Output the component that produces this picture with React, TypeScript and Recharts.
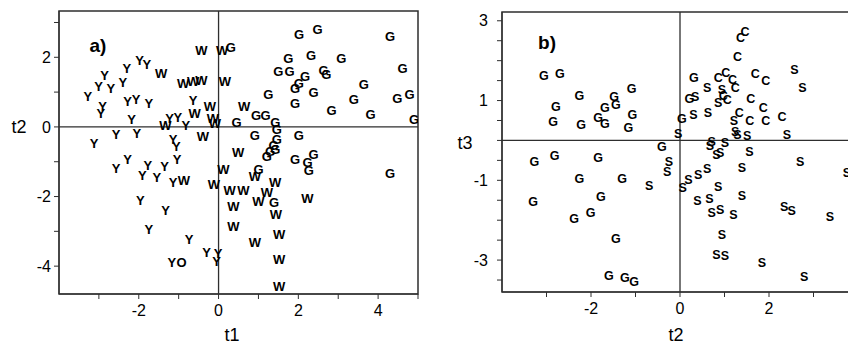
import React from "react";
import {
  ScatterChart,
  Scatter,
  XAxis,
  YAxis,
  ReferenceLine,
  ReferenceArea,
} from "recharts";

type Pt = [number, number];

// panel a) t1 vs t2
const aY: Pt[] = [
  [-2.3, 1.69], [-1.98, 1.9], [-1.8, 1.78], [-2.86, 1.47], [-3.01, 1.17],
  [-2.7, 1.11], [-2.4, 1.27], [-3.28, 0.87], [-2.91, 0.6], [-2.95, 0.39],
  [-2.28, 0.73], [-2.07, 0.78], [-1.75, 0.68], [-0.64, 0.76], [-2.18, 0.22],
  [-2.05, -0.18], [-1.23, 0.25], [-1.02, 0.28], [-0.82, 0.03], [-3.12, -0.49],
  [-2.57, -0.23], [-1.14, -0.37], [-1.06, -0.57], [-2.57, -1.19], [-2.28, -0.95],
  [-1.77, -1.12], [-1.91, -1.41], [-1.55, -1.45], [-1.35, -1.14], [-1.04, -0.95],
  [-1.14, -1.6], [-1.96, -2.1], [-1.33, -2.39], [-1.75, -2.96], [-0.74, -3.23],
  [-0.3, -3.61], [-0.01, -3.63], [-0.05, -3.87], [-1.17, -3.9],
];
const aO: Pt[] = [[-0.93, -3.9]];
const aW: Pt[] = [
  [-0.43, 2.19], [0.09, 2.19], [-1.44, 1.54], [-0.89, 1.26], [-0.64, 1.3],
  [-0.43, 1.32], [0.16, 1.3], [-0.6, 0.39], [-0.22, 0.6], [-0.14, 0.25],
  [-0.09, 0.11], [0.64, 0.6], [-1.33, 0.03], [-0.39, -0.28], [0.49, -0.74],
  [0.12, -1.22], [0.91, -1.43], [1.42, -1.6], [-0.87, -1.54], [-0.12, -1.64],
  [0.28, -1.83], [0.62, -1.83], [1.21, -1.89], [1.0, -2.15], [2.23, -2.05],
  [0.37, -2.29], [1.44, -2.53], [0.37, -2.86], [1.52, -3.08], [0.91, -3.32],
  [1.52, -3.82], [1.52, -4.59],
];
const aG: Pt[] = [
  [0.31, 2.27], [2.02, 2.66], [2.48, 2.79], [4.3, 2.61], [1.75, 1.97],
  [2.32, 2.04], [3.08, 1.97], [1.5, 1.59], [1.78, 1.59], [2.17, 1.45],
  [2.63, 1.62], [2.7, 1.52], [4.61, 1.67], [2.01, 1.24], [1.92, 1.11],
  [2.38, 0.99], [3.64, 1.21], [1.25, 0.94], [1.92, 0.66], [2.83, 0.47],
  [3.39, 0.78], [3.81, 0.37], [4.48, 0.82], [4.79, 0.92], [4.9, 0.22],
  [0.94, 0.34], [1.18, 0.32], [0.45, 0.12], [1.42, 0.12], [1.46, -0.07],
  [0.91, -0.25], [2.01, -0.25], [1.46, -0.37], [1.38, -0.52], [1.42, -0.66],
  [1.29, -0.71], [1.21, -0.85], [1.92, -0.95], [2.38, -0.8], [2.23, -1.03],
  [2.26, -1.24], [1.0, -1.22], [1.39, -2.18], [4.3, -1.35],
];

// panel b) t2 vs t3
const bG: Pt[] = [
  [-3.06, 1.62], [-2.7, 1.67], [-2.26, 1.12], [-2.79, 0.83], [-2.85, 0.45],
  [-2.22, 0.39], [-1.84, 0.56], [-1.69, 0.81], [-1.48, 1.08], [-1.44, 0.89],
  [-1.69, 0.41], [-1.09, 1.29], [-1.07, 0.64], [-1.16, 0.31], [0.04, 0.54],
  [-0.41, -0.16], [-3.27, -0.55], [-2.82, -0.38], [-1.84, -0.43], [-2.26, -0.97],
  [-1.3, -0.97], [-3.3, -1.55], [-1.78, -1.42], [-2.01, -1.83], [-2.38, -1.98],
  [-1.44, -2.47], [-1.6, -3.4], [-1.24, -3.44], [-1.03, -3.55], [0.31, 1.56],
  [0.21, 1.04],
];
const bS: Pt[] = [
  [-0.04, 0.17], [-0.25, -0.55], [-0.29, -0.8], [-0.69, -1.13], [0.06, -1.19],
  [0.19, -1.0], [0.41, -0.86], [0.61, -0.72], [1.39, -0.69], [2.7, -0.53],
  [3.75, -0.82], [0.86, -1.18], [0.39, -1.53], [0.66, -1.48], [1.39, -1.4],
  [0.71, -1.82], [0.9, -1.75], [1.2, -1.88], [2.34, -1.67], [2.51, -1.78],
  [3.37, -1.93], [0.94, -2.38], [0.82, -2.86], [1.01, -2.9], [1.84, -3.07],
  [2.79, -3.42], [0.67, -0.15], [0.82, -0.36], [0.9, -0.32], [1.01, -0.07],
  [1.56, -0.3], [0.71, -0.03], [1.24, 0.21], [1.29, 0.14], [1.51, 0.1],
  [2.4, 0.14], [1.21, 0.48], [0.3, 0.64], [0.63, 0.68], [0.61, 1.31],
  [0.34, 1.09], [2.57, 1.77], [2.75, 1.31], [0.94, 1.27], [0.86, 0.94],
];
const bC: Pt[] = [
  [1.46, 2.73], [1.36, 2.56], [1.29, 2.1], [1.03, 1.7], [0.86, 1.56],
  [1.18, 1.52], [1.24, 1.31], [1.69, 1.67], [1.93, 1.5], [1.06, 1.02],
  [0.97, 1.12], [1.59, 1.04], [1.87, 0.81], [1.33, 0.7], [1.57, 0.48],
  [1.93, 0.48], [2.29, 0.59],
];

const aXTicks = [-3, -2, -1, 0, 1, 2, 3, 4, 5];
const aYTicks = [-4, -3, -2, -1, 0, 1, 2, 3];
const bXTicks = [-3, -2, -1, 0, 1, 2, 3, 4];
const bYTicks = [-3.5, -3, -2.5, -2, -1.5, -1, -0.5, 0, 0.5, 1, 1.5, 2, 2.5, 3];

const FONT = "'Liberation Sans', Arial, Helvetica, sans-serif";
const AXIS = "#2e2e2e";

const toXY = (pts: Pt[]) => pts.map(([x, y]) => ({ x, y }));

const letter = (ch: string, size: number) => (props: any) => (
  <text
    x={props.cx}
    y={props.cy}
    textAnchor="middle"
    dominantBaseline="central"
    fontFamily={FONT}
    fontWeight="bold"
    fontSize={size}
    fill="#000"
  >
    {ch}
  </text>
);

const tickStyle = { fontSize: 16, fill: "#000", fontFamily: FONT };
const evenOnly = (v: number) => (v % 2 === 0 ? String(v) : "");
const oddOnly = (v: number) => (Math.abs(v) % 2 === 1 ? String(v) : "");

const label = (text: string, x: number, y: number, size: number, bold = false) => (
  <div
    style={{
      position: "absolute",
      left: x,
      top: y,
      transform: "translate(-50%, -50%)",
      fontFamily: FONT,
      fontSize: size,
      fontWeight: bold ? "bold" : "normal",
      color: "#000",
      whiteSpace: "nowrap",
      lineHeight: 1,
    }}
  >
    {text}
  </div>
);

export default function App() {
  const aDom: [number, number] = [-4.8, 3.33];
  const bDom: [number, number] = [-3.8, 3.22];
  return (
    <div
      style={{
        position: "absolute",
        left: 0,
        top: 0,
        width: 848,
        height: 347,
        overflow: "hidden",
        background: "#fff",
      }}
    >
      <div style={{ position: "absolute", left: 0, top: 0 }}>
        <ScatterChart width={430} height={347} margin={{ top: 11, right: 12, bottom: 23, left: 19 }}>
          <XAxis
            type="number"
            dataKey="x"
            domain={[-4, 5]}
            allowDataOverflow
            ticks={aXTicks}
            tickFormatter={evenOnly}
            interval={0}
            height={30}
            tickSize={5}
            tickMargin={6}
            stroke={AXIS}
            tick={tickStyle}
          />
          <YAxis
            type="number"
            dataKey="y"
            domain={aDom}
            allowDataOverflow
            ticks={aYTicks}
            tickFormatter={evenOnly}
            interval={0}
            width={40}
            tickSize={5}
            tickMargin={3}
            stroke={AXIS}
            tick={tickStyle}
          />
          <ReferenceArea x1={-4} x2={5} y1={aDom[0]} y2={aDom[1]} fill="none" stroke={AXIS} strokeWidth={1.5} />
          <ReferenceLine x={0} stroke={AXIS} strokeWidth={1.3} />
          <ReferenceLine y={0} stroke={AXIS} strokeWidth={1.3} />
          <Scatter data={toXY(aY)} shape={letter("Y", 13)} isAnimationActive={false} />
          <Scatter data={toXY(aO)} shape={letter("O", 13)} isAnimationActive={false} />
          <Scatter data={toXY(aW)} shape={letter("W", 13)} isAnimationActive={false} />
          <Scatter data={toXY(aG)} shape={letter("G", 13)} isAnimationActive={false} />
        </ScatterChart>
      </div>
      <div style={{ position: "absolute", left: 455, top: 0 }}>
        <ScatterChart width={403} height={347} margin={{ top: 12, right: 0, bottom: 25, left: 7 }}>
          <XAxis
            type="number"
            dataKey="x"
            domain={[-4, 4]}
            allowDataOverflow
            ticks={bXTicks}
            tickFormatter={evenOnly}
            interval={0}
            height={30}
            tickSize={5}
            tickMargin={6}
            stroke={AXIS}
            tick={tickStyle}
          />
          <YAxis
            type="number"
            dataKey="y"
            domain={bDom}
            allowDataOverflow
            ticks={bYTicks}
            tickFormatter={oddOnly}
            interval={0}
            width={40}
            tickSize={5}
            tickMargin={9}
            stroke={AXIS}
            tick={tickStyle}
          />
          <ReferenceArea x1={-4} x2={4} y1={bDom[0]} y2={bDom[1]} fill="none" stroke={AXIS} strokeWidth={1.5} />
          <ReferenceLine x={0} stroke={AXIS} strokeWidth={1.3} />
          <ReferenceLine y={0} stroke={AXIS} strokeWidth={1.3} />
          <Scatter data={toXY(bG)} shape={letter("G", 12.5)} isAnimationActive={false} />
          <Scatter data={toXY(bS)} shape={letter("S", 12.5)} isAnimationActive={false} />
          <Scatter data={toXY(bC)} shape={letter("C", 12.5)} isAnimationActive={false} />
        </ScatterChart>
      </div>
      {label("a)", 98, 45, 19, true)}
      {label("b)", 547, 42, 19, true)}
      {label("t1", 232, 335, 18)}
      {label("t2", 19, 127, 18)}
      {label("t2", 676, 335, 18)}
      {label("t3", 465, 143, 18)}
    </div>
  );
}
